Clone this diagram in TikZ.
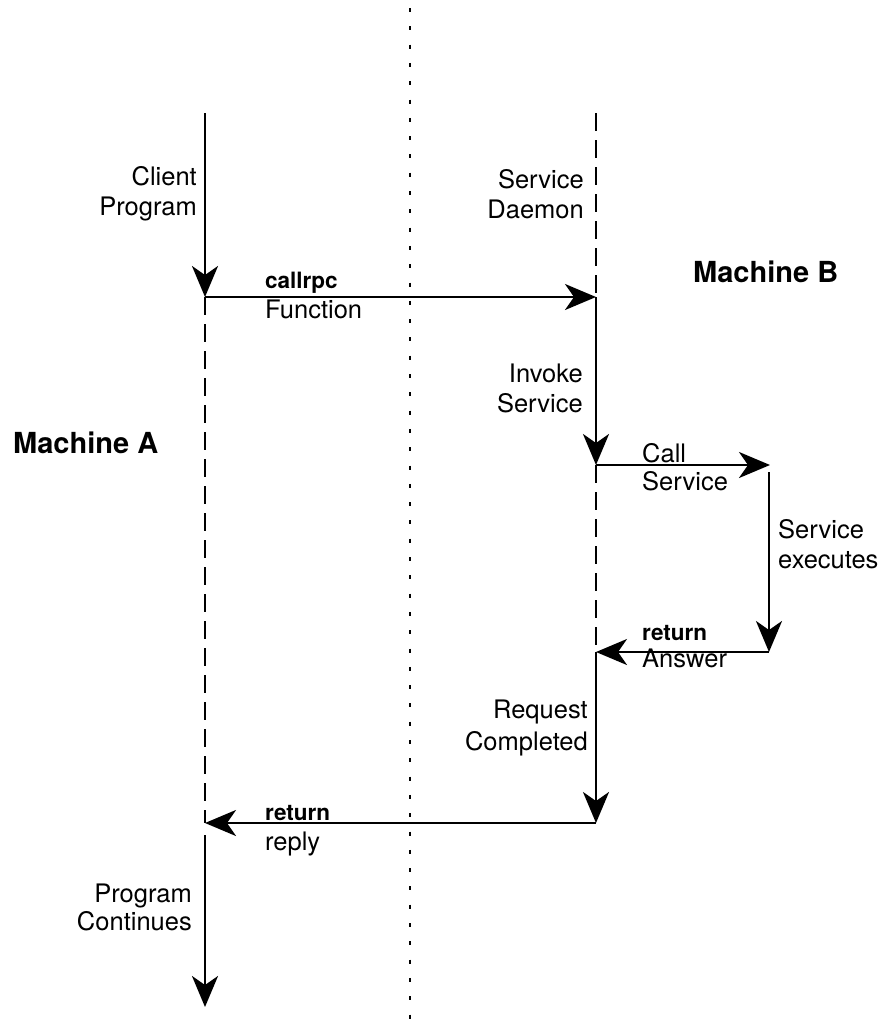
\documentclass[tikz,border=0pt]{standalone}
\usepackage{fontspec}
\setmainfont{TeX Gyre Heros}
\usetikzlibrary{arrows.meta}
\begin{document}
\begin{tikzpicture}[x=1pt,y=-1pt,
  flow/.style={line width=2.6pt,-{Stealth[length=31pt,width=26pt,inset=9pt]}},
  life/.style={line width=1.2pt,dash pattern=on 18pt off 9pt},
  divider/.style={line width=1.5pt,dash pattern=on 4pt off 14.3pt},
  lblR/.style={anchor=base east,align=right,inner sep=0pt,font=\fontsize{25.5}{30}\selectfont},
  lblL/.style={anchor=base west,align=left,inner sep=0pt,font=\fontsize{25.5}{30}\selectfont},
  title/.style={anchor=base west,inner sep=0pt,font=\fontsize{29}{34}\selectfont\bfseries}]
\path[use as bounding box] (0,0) rectangle (888,1021);
% timeline points
\coordinate (divTop) at (410,8);
\coordinate (divBot) at (410,1021);
\coordinate (aTop) at (205,113);
\coordinate (aCall) at (205,297);
\coordinate (aRet) at (205,823);
\coordinate (aCont) at (205,835);
\coordinate (aEnd) at (205,1007);
\coordinate (bTop) at (596,113);
\coordinate (bCall) at (596,297);
\coordinate (bInv) at (596,465);
\coordinate (bAns) at (596,652);
\coordinate (bRet) at (596,823);
\coordinate (sCall) at (770,465);
\coordinate (sTop) at (769,472);
\coordinate (sEnd) at (769,652);
% divider
\draw[divider] (divTop) -- (divBot);
% dashed lifelines
\draw[life] (aCall) -- (aRet);
\draw[life] (bTop) -- (bCall);
\draw[life] (bInv) -- (bAns);
% flows
\draw[flow] (aTop) -- (aCall);
\draw[flow] (aCall) -- (bCall);
\draw[flow] (bCall) -- (bInv);
\draw[flow] (bInv) -- (sCall);
\draw[flow] (sTop) -- (sEnd);
\draw[flow] (sEnd) -- (bAns);
\draw[flow] (bAns) -- (bRet);
\draw[flow] (bRet) -- (aRet);
\draw[flow] (aCont) -- (aEnd);
% labels (base anchor = baseline of the last line)
\node[lblR] (client) at (197,215) {Client\\Program};
\node[lblL] (callrpc) at (265,318) {{\fontsize{22.5}{30}\selectfont\bfseries callrpc}\\Function};
\node[lblR] (daemon) at (584,218) {Service\\Daemon};
\node[title] (machB) at (693,282) {Machine B};
\node[title] (machA) at (13,453) {Machine A};
\node[lblR] (invoke) at (583,412) {Invoke\\Service};
\node[lblL] (callsvc) at (642,490) {Call\\[-2pt]Service};
\node[lblL] (exec) at (778,568) {Service\\executes};
\node[lblL] (retans) at (642,667) {{\fontsize{22.5}{27}\selectfont\bfseries return}\\[-3pt]Answer};
\node[lblR] (done) at (588,750) {Request\\[2pt]Completed};
\node[lblL] (retrep) at (265,850) {{\fontsize{22.5}{30}\selectfont\bfseries return}\\reply};
\node[lblR] (cont) at (192,930) {Program\\[-2pt]Continues};
\end{tikzpicture}
\end{document}
